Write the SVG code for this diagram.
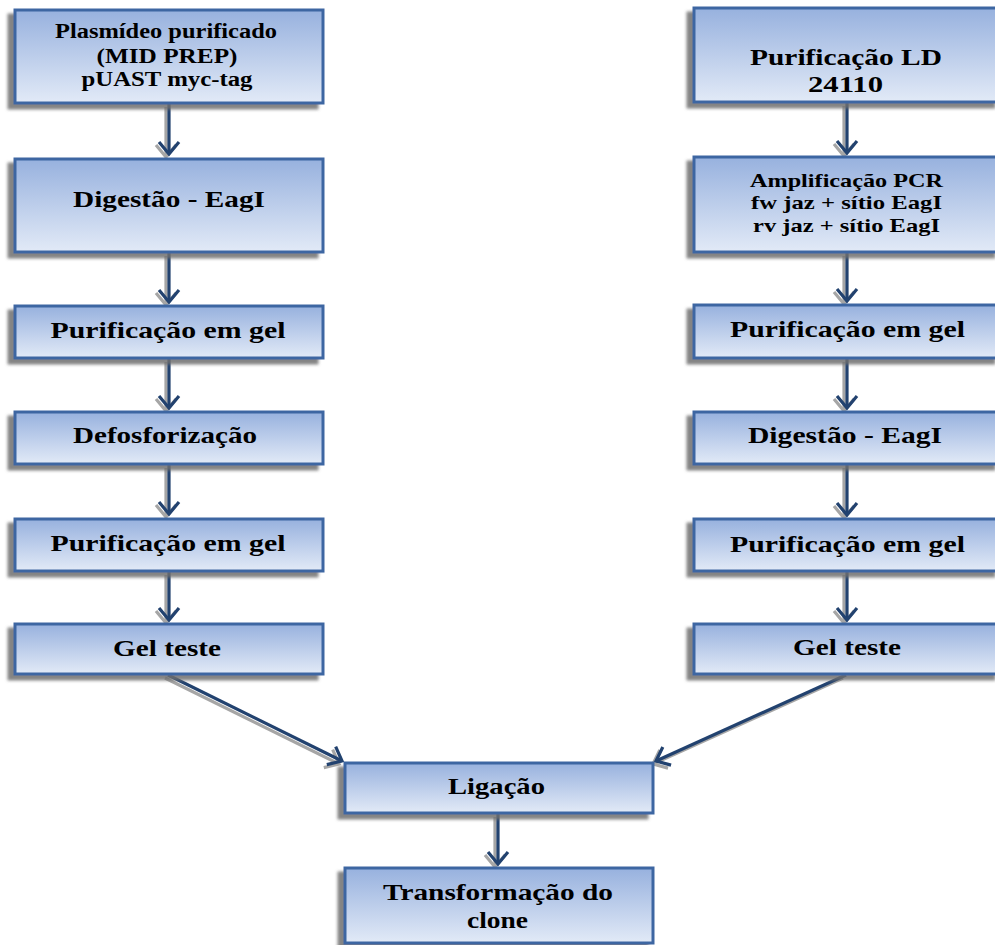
<svg xmlns="http://www.w3.org/2000/svg" width="995" height="945" viewBox="0 0 995 945">
<defs>
<linearGradient id="gf" x1="0" y1="0" x2="0" y2="1">
<stop offset="0" stop-color="#97b1de"/>
<stop offset="1" stop-color="#e2eaf7"/>
</linearGradient>
<filter id="sh" x="-10%" y="-20%" width="120%" height="150%">
<feDropShadow dx="-6" dy="5" stdDeviation="1.5" flood-color="#6e6e6e" flood-opacity="0.85"/>
</filter>
<marker id="ah" markerUnits="userSpaceOnUse" markerWidth="30" markerHeight="30" refX="15" refY="15" orient="auto" overflow="visible">
<path d="M3,5 L15,15 L3,25" fill="none" stroke="#22426f" stroke-width="3.2"/>
</marker>
<marker id="ahs" markerUnits="userSpaceOnUse" markerWidth="30" markerHeight="30" refX="15" refY="15" orient="auto" overflow="visible">
<path d="M3,5 L15,15 L3,25" fill="none" stroke="#a6a6a6" stroke-width="3.2"/>
</marker>
</defs>
<style>
.box{fill:url(#gf);stroke:#3e66a2;stroke-width:3;filter:url(#sh)}
.t{font-family:"Liberation Serif","Times New Roman",serif;font-weight:bold;fill:#000;text-anchor:middle}
.s19{font-size:20px}
.s18{font-size:19px}
.s22{font-size:23.5px}
.s25{font-size:24px}
.c{fill:none;stroke:#22426f;stroke-width:3.2;marker-end:url(#ah)}
.cs{fill:none;stroke:#a6a6a6;stroke-width:3.2;marker-end:url(#ahs)}
</style>
<rect width="995" height="945" fill="#fff"/>

<g id="connectors">
<g id="shadows" transform="translate(-3,3)">
<line class="cs" x1="169" y1="104" x2="169" y2="154"/>
<line class="cs" x1="169" y1="253" x2="169" y2="302"/>
<line class="cs" x1="169" y1="359" x2="169" y2="408"/>
<line class="cs" x1="169" y1="465" x2="169" y2="514"/>
<line class="cs" x1="169" y1="572" x2="169" y2="620"/>
<line class="cs" x1="847" y1="103" x2="847" y2="153"/>
<line class="cs" x1="847" y1="253" x2="847" y2="301"/>
<line class="cs" x1="847" y1="359" x2="847" y2="408"/>
<line class="cs" x1="847" y1="465" x2="847" y2="515"/>
<line class="cs" x1="847" y1="572" x2="847" y2="620"/>
<line class="cs" x1="498" y1="814" x2="498" y2="864"/>
<line class="cs" x1="168" y1="675" x2="342" y2="761"/>
<line class="cs" x1="846" y1="675" x2="656" y2="761"/>
</g>
<line class="c" x1="169" y1="104" x2="169" y2="154"/>
<line class="c" x1="169" y1="253" x2="169" y2="302"/>
<line class="c" x1="169" y1="359" x2="169" y2="408"/>
<line class="c" x1="169" y1="465" x2="169" y2="514"/>
<line class="c" x1="169" y1="572" x2="169" y2="620"/>
<line class="c" x1="847" y1="103" x2="847" y2="153"/>
<line class="c" x1="847" y1="253" x2="847" y2="301"/>
<line class="c" x1="847" y1="359" x2="847" y2="408"/>
<line class="c" x1="847" y1="465" x2="847" y2="515"/>
<line class="c" x1="847" y1="572" x2="847" y2="620"/>
<line class="c" x1="498" y1="814" x2="498" y2="864"/>
<line class="c" x1="168" y1="675" x2="342" y2="761"/>
<line class="c" x1="846" y1="675" x2="656" y2="761"/>
</g>

<g id="l1"><rect class="box" x="15" y="10" width="308" height="93"/>
<text class="t s19" x="166" y="38" textLength="222" lengthAdjust="spacingAndGlyphs">Plasmídeo purificado</text>
<text class="t s19" x="167" y="63" textLength="141" lengthAdjust="spacingAndGlyphs">(MID PREP)</text>
<text class="t s19" x="167" y="86" textLength="171" lengthAdjust="spacingAndGlyphs">pUAST myc-tag</text></g>
<g id="l2"><rect class="box" x="15" y="159" width="308" height="93"/>
<text class="t s22" x="169" y="207" textLength="192" lengthAdjust="spacingAndGlyphs">Digestão - EagI</text></g>
<g id="l3"><rect class="box" x="15" y="306" width="308" height="52"/>
<text class="t s22" x="168" y="338" textLength="235" lengthAdjust="spacingAndGlyphs">Purificação em gel</text></g>
<g id="l4"><rect class="box" x="15" y="412" width="308" height="52"/>
<text class="t s22" x="165" y="443" textLength="184" lengthAdjust="spacingAndGlyphs">Defosforização</text></g>
<g id="l5"><rect class="box" x="15" y="519" width="308" height="52"/>
<text class="t s22" x="168" y="551" textLength="235" lengthAdjust="spacingAndGlyphs">Purificação em gel</text></g>
<g id="l6"><rect class="box" x="15" y="624" width="308" height="50"/>
<text class="t s22" x="167" y="656" textLength="108" lengthAdjust="spacingAndGlyphs">Gel teste</text></g>

<g id="r1"><rect class="box" x="694" y="8" width="306" height="94"/>
<text class="t s25" x="846" y="65" textLength="192" lengthAdjust="spacingAndGlyphs">Purificação LD</text>
<text class="t s25" x="845.5" y="92" textLength="75" lengthAdjust="spacingAndGlyphs">24110</text></g>
<g id="r2"><rect class="box" x="694" y="157" width="306" height="95"/>
<text class="t s18" x="846.5" y="187" textLength="193" lengthAdjust="spacingAndGlyphs">Amplificação PCR</text>
<text class="t s18" x="846.5" y="209" textLength="191" lengthAdjust="spacingAndGlyphs">fw jaz + sítio EagI</text>
<text class="t s18" x="846.5" y="232" textLength="187" lengthAdjust="spacingAndGlyphs">rv jaz + sítio EagI</text></g>
<g id="r3"><rect class="box" x="694" y="305" width="306" height="53"/>
<text class="t s22" x="847.5" y="337" textLength="235" lengthAdjust="spacingAndGlyphs">Purificação em gel</text></g>
<g id="r4"><rect class="box" x="694" y="412" width="306" height="52"/>
<text class="t s22" x="845" y="443" textLength="194" lengthAdjust="spacingAndGlyphs">Digestão - EagI</text></g>
<g id="r5"><rect class="box" x="694" y="519" width="306" height="52"/>
<text class="t s22" x="847.5" y="552" textLength="235" lengthAdjust="spacingAndGlyphs">Purificação em gel</text></g>
<g id="r6"><rect class="box" x="694" y="624" width="306" height="50"/>
<text class="t s22" x="847" y="655" textLength="108" lengthAdjust="spacingAndGlyphs">Gel teste</text></g>

<g id="lig"><rect class="box" x="345" y="763" width="308" height="50"/>
<text class="t s22" x="496.5" y="794" textLength="97" lengthAdjust="spacingAndGlyphs">Ligação</text></g>
<g id="trans"><rect class="box" x="345" y="868" width="308" height="75"/>
<text class="t s22" x="498" y="900" textLength="230" lengthAdjust="spacingAndGlyphs">Transformação do</text>
<text class="t s22" x="497.5" y="928" textLength="61" lengthAdjust="spacingAndGlyphs">clone</text></g>
</svg>
